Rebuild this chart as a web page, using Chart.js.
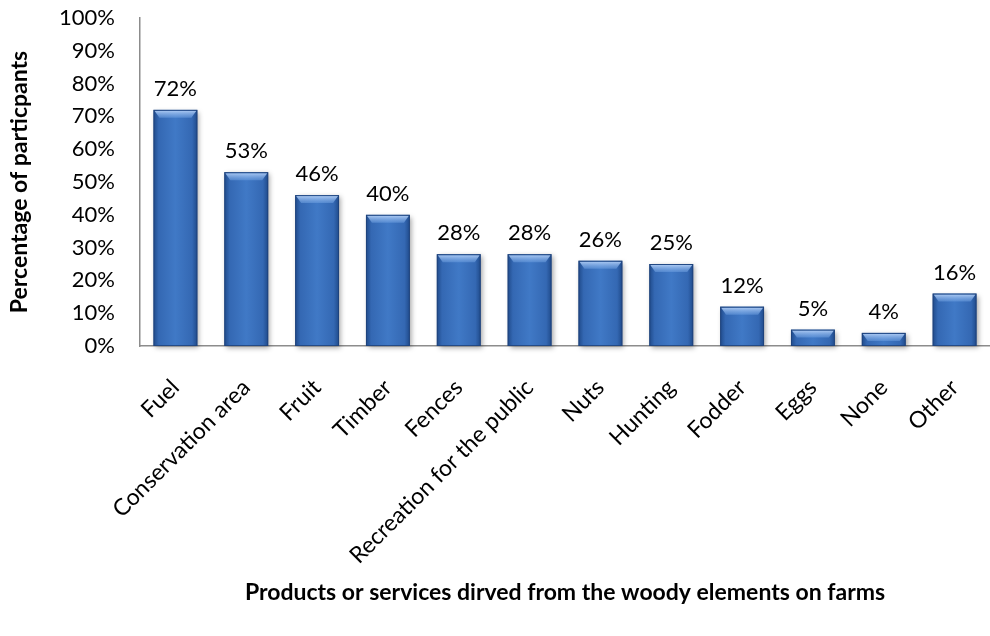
<!DOCTYPE html>
<html>
<head>
<meta charset="utf-8">
<script src="https://cdn.jsdelivr.net/npm/chart.js@4/dist/chart.umd.min.js"></script>
<style>
  body { margin: 0; background: #fff; }
  canvas { display: block; }
</style>
</head>
<body>
<canvas id="usesChart" width="990" height="636"></canvas>
<script>
var categories = ["Fuel", "Conservation area", "Fruit", "Timber", "Fences", "Recreation for the public",
                  "Nuts", "Hunting", "Fodder", "Eggs", "None", "Other"];
var shares = [72, 53, 46, 40, 28, 28, 26, 25, 12, 5, 4, 16];
var yTicks = [0, 10, 20, 30, 40, 50, 60, 70, 80, 90, 100];

var FONT = "Lato, 'Open Sans', sans-serif";

// paint the bars ourselves: rounded-looking shading, bevelled top, soft shadow, value label
var barPaint = {
  id: "barPaint",
  afterDatasetsDraw: function (chart) {
    var c = chart.ctx;
    var meta = chart.getDatasetMeta(0);
    meta.data.forEach(function (bar, i) {
      var w = bar.width, x0 = bar.x - w / 2, x1 = bar.x + w / 2;
      var top = bar.y, base = bar.base, h = base - top;

      c.save();
      c.shadowColor = "rgba(0,0,0,0.35)";
      c.shadowBlur = 5;
      c.shadowOffsetX = 2;
      c.shadowOffsetY = 2;
      var g = c.createLinearGradient(x0, 0, x1, 0);
      g.addColorStop(0, "#1f4a8a");
      g.addColorStop(0.12, "#3468b3");
      g.addColorStop(0.5, "#4079c6");
      g.addColorStop(0.88, "#3468b3");
      g.addColorStop(1, "#1f4a8a");
      c.fillStyle = g;
      c.fillRect(x0, top, w, h);
      c.restore();

      // bevel on top
      c.save();
      var bh = Math.min(8, h);
      var bg = c.createLinearGradient(0, top, 0, top + bh);
      bg.addColorStop(0, "rgba(190,215,250,0.95)");
      bg.addColorStop(1, "rgba(110,160,225,0.5)");
      c.fillStyle = bg;
      c.beginPath();
      c.moveTo(x0 + 1, top + 1);
      c.lineTo(x1 - 1, top + 1);
      c.lineTo(x1 - 6, top + bh);
      c.lineTo(x0 + 6, top + bh);
      c.closePath();
      c.fill();
      c.strokeStyle = "rgba(30,65,120,0.8)";
      c.lineWidth = 1;
      c.strokeRect(x0 + 0.5, top + 0.5, w - 1, h - 1);

      c.fillStyle = "#000";
      c.font = "22px " + FONT;
      c.textAlign = "center";
      c.textBaseline = "middle";
      c.fillText(shares[i] + "%", bar.x, top - 21);
      c.restore();
    });
  }
};

new Chart(document.getElementById("usesChart"), {
  type: "bar",
  data: {
    labels: categories,
    datasets: [{
      data: shares,
      backgroundColor: "rgba(0,0,0,0)",
      borderWidth: 0,
      categoryPercentage: 1,
      barPercentage: 0.62
    }]
  },
  options: {
    responsive: false,
    animation: false,
    layout: { padding: { top: 18, right: 0, left: 0, bottom: 0 } },
    plugins: { legend: { display: false }, tooltip: { enabled: false } },
    scales: {
      x: {
        grid: { display: false, drawTicks: false },
        border: { color: "#8c8c8c", width: 1.5 },
        afterFit: function (scale) {
          scale.height = 290;
          scale.paddingLeft = 0;
          scale.paddingRight = 0;
        },
        ticks: {
          color: "#000",
          font: { family: FONT, size: 23 },
          minRotation: 45,
          maxRotation: 45,
          padding: 28
        },
        title: {
          display: true,
          text: "Products or services dirved from the woody elements on farms",
          color: "#000",
          font: { family: FONT, size: 23, weight: "bold" },
          padding: { top: 0, bottom: 30 }
        }
      },
      y: {
        min: 0,
        max: 100,
        afterBuildTicks: function (scale) {
          scale.ticks = yTicks.map(function (v) { return { value: v }; });
        },
        afterFit: function (scale) {
          scale.width = 140;
          scale.paddingTop = 0;
          scale.paddingBottom = 0;
        },
        grid: { display: false, drawTicks: false },
        border: { color: "#8c8c8c", width: 1.5 },
        ticks: {
          color: "#000",
          font: { family: FONT, size: 22 },
          padding: 25,
          callback: function (v) { return v + "%"; }
        },
        title: {
          display: true,
          text: "Percentage of particpants",
          color: "#000",
          font: { family: FONT, size: 23, weight: "bold" },
          padding: { top: 6, bottom: 0 }
        }
      }
    }
  },
  plugins: [barPaint]
});
</script>
</body>
</html>
